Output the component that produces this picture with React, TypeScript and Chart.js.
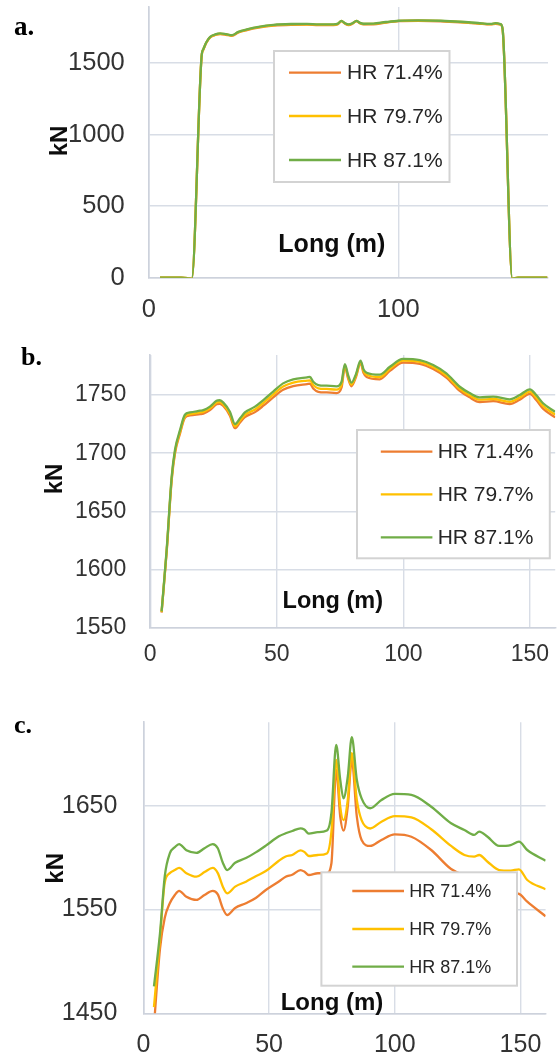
import React, { useEffect, useRef } from "react";
import { Chart, registerables } from "chart.js";

Chart.register(...registerables);

const SANS = '"Liberation Sans", Arial, sans-serif';
const SERIF = '"Liberation Serif", "Times New Roman", serif';

const seriesLabels = ["HR 71.4%", "HR 79.7%", "HR 87.1%"];
const seriesColors = ["#ED7D31", "#FFC000", "#70AD47"];

// ---- a. full length ----
const longA = [4.5, 8, 13, 15.5, 17.2, 21.2, 21.9, 23, 24.6, 26.6, 28.6, 31, 33.3, 35.9, 39.3, 44, 50, 57, 63.4, 68, 74, 75.8, 77.2, 78.6, 80.1, 81.7, 83.2, 84.7, 86.1, 90, 95, 100.2, 108, 117, 125, 132, 137, 139, 141, 141.8, 145.7, 148, 152, 159.7];
const hr714A = [0, 0, 0, -3, -8, 1552, 1596, 1641, 1680, 1697, 1704, 1699, 1692, 1715, 1732, 1749, 1762.5, 1768.5, 1769.5, 1766.5, 1766.5, 1773, 1794, 1777, 1766.5, 1777, 1794, 1778.5, 1772, 1772.5, 1784.5, 1794, 1796.8, 1793.5, 1786, 1777, 1771, 1776, 1770, 1736, -6, 0, 0, 0];
const hr797A = [0, 0, 0, -3, -8, 1554, 1598, 1643, 1682, 1699, 1706, 1701, 1694, 1717, 1734, 1751.5, 1765.5, 1771.5, 1772.3, 1769.3, 1769.3, 1775, 1795, 1778.5, 1769, 1778.5, 1795, 1780.5, 1774, 1775, 1786.3, 1795.5, 1798.4, 1795.3, 1788, 1779, 1773, 1778, 1772, 1738, -6, 0, 0, 0];
const hr871A = [0, 0, 0, -3, -8, 1556, 1600, 1645, 1684, 1701, 1708, 1703, 1696, 1719, 1736, 1754, 1768, 1774, 1775, 1772, 1772, 1777, 1796, 1780, 1771, 1780, 1796, 1782, 1776, 1777, 1788, 1797, 1800, 1797, 1790, 1781, 1775, 1780, 1774, 1740, -6, 0, 0, 0];
const yTicksA = [0, 500, 1000, 1500];
const xTicksA = [0, 100];

// ---- b. ----
const longB = [4.5, 6.5, 8.5, 9.8, 11.8, 13.7, 15.7, 19.7, 21, 23.6, 26.2, 27.5, 28.9, 31.5, 33.5, 35.5, 37.4, 41.4, 44.7, 48.6, 52.5, 56.5, 62, 63.1, 64.4, 66.4, 69.7, 73.6, 75.6, 76.9, 78.2, 79.5, 81.3, 83.1, 84.3, 85.5, 90.7, 94.7, 99.9, 106.5, 111.8, 117, 122.3, 126, 130.2, 135.5, 142, 146, 150, 152.5, 155.2, 160];
const hr714B = [1563, 1615, 1677, 1700, 1717, 1730.5, 1732.5, 1733.6, 1734, 1737, 1742, 1742.5, 1740.5, 1732.3, 1721.5, 1726.5, 1731, 1735.3, 1740.8, 1748, 1754.5, 1757.7, 1759.4, 1759.7, 1755.6, 1752.8, 1752.2, 1751.7, 1756.5, 1774.2, 1764, 1757.5, 1765.5, 1777.5, 1768.8, 1765.5, 1763.5, 1770.7, 1777.8, 1776.8, 1772.3, 1765, 1753.5, 1748.2, 1744, 1744.8, 1742.3, 1746, 1750.9, 1745.8, 1738.3, 1730.8];
const hr797B = [1563.5, 1616, 1678.5, 1701.5, 1718.5, 1731.5, 1733.5, 1735, 1735.5, 1738.5, 1743.5, 1744, 1742, 1734, 1723, 1728, 1733, 1737.5, 1743.2, 1750.4, 1757.3, 1760.7, 1762.4, 1762.6, 1758.6, 1755.8, 1755.2, 1754.7, 1759, 1775.5, 1765.5, 1759, 1766.8, 1778.5, 1770.5, 1767.5, 1765.5, 1772.5, 1779.5, 1778.4, 1774, 1766.7, 1755.2, 1750, 1746, 1746.6, 1744.2, 1747.9, 1752.9, 1747.8, 1740.6, 1733.1];
const hr871B = [1564, 1617, 1680, 1703, 1720, 1733, 1735, 1736.5, 1737, 1740, 1745, 1745.5, 1743.5, 1735.6, 1725, 1730, 1735, 1740, 1745.7, 1753, 1760, 1763.5, 1765.2, 1765.5, 1761.4, 1758.6, 1758, 1757.5, 1761.4, 1776.6, 1767, 1760.6, 1768, 1779.5, 1772, 1769.2, 1767.5, 1774.3, 1781, 1780, 1775.8, 1768.6, 1757.1, 1752, 1748, 1748.6, 1746.3, 1750, 1754.9, 1750, 1742.9, 1735.6];
const yTicksB = [1550, 1600, 1650, 1700, 1750];
const xTicksB = [0, 50, 100, 150];

// ---- c. ----
const longC = [4.2, 6.6, 8.5, 10.5, 12.5, 14.2, 17.1, 21.1, 24.3, 27.6, 29.6, 31.6, 33.3, 36.5, 40.8, 44.7, 48.7, 53.9, 56.6, 59.2, 62.5, 64, 65.8, 69.4, 73, 74.8, 76.7, 78.3, 79.6, 81.3, 82.9, 84.9, 86.8, 90.2, 94.7, 100, 106.6, 114.5, 122.4, 127.7, 131.6, 133.6, 136.9, 141.5, 146.1, 149.4, 152.7, 160];
const hr714C = [1438, 1512, 1542, 1556, 1564, 1568, 1562.3, 1559.2, 1564, 1568, 1564.5, 1551, 1544.7, 1551.5, 1556, 1561, 1568.8, 1577, 1581.6, 1583.5, 1588, 1586.5, 1583.2, 1584.9, 1585, 1594.5, 1684.4, 1639.4, 1626, 1649, 1694, 1639.4, 1617, 1611.2, 1617, 1622.4, 1620.1, 1607.3, 1589, 1583, 1580, 1581, 1575, 1567, 1566, 1565, 1557.5, 1543.5];
const hr797C = [1456, 1522, 1576, 1585, 1588, 1590, 1585, 1581.6, 1586, 1590, 1585, 1572, 1565.6, 1572, 1576.8, 1582, 1587, 1597, 1601, 1602.5, 1607, 1605.5, 1601.5, 1602.5, 1604, 1625, 1694, 1649, 1636, 1655.5, 1700.5, 1655.5, 1636, 1628, 1634.6, 1640, 1638.8, 1627.3, 1611.2, 1602.5, 1600.9, 1602.5, 1596, 1588, 1587.4, 1588.7, 1578.4, 1569.5];
const hr871C = [1476, 1527, 1582, 1604, 1610, 1613, 1607, 1604.5, 1609, 1613, 1609, 1595, 1588, 1595, 1599.5, 1605, 1611.5, 1620.5, 1623.4, 1625.6, 1628.2, 1627, 1623, 1624.5, 1626, 1643, 1708.5, 1675, 1657, 1678, 1716, 1675, 1657, 1647.5, 1655.5, 1661.3, 1660.3, 1649, 1633, 1626.6, 1621.8, 1625, 1620, 1611.2, 1612.1, 1615.3, 1607.3, 1597];
const yTicksC = [1450, 1550, 1650];
const xTicksC = [0, 50, 100, 150];

type PanelSpec = {
  letter: string;
  top: number;
  height: number;
  x: number[];
  series: number[][];
  xTicks: number[];
  yTicks: number[];
  xMax: number;
  yMin: number;
  yMax: number;
  area: { left: number; right: number; top: number; bottom: number };
  tickSize: number;
  yTickPad: number;
  xTickPad: number;
  letterPos: [number, number];
  letterSize: number;
  kN: [number, number];
  longPos: [number, number];
  titleSize: number;
  legend: { x: number; y: number; w: number; h: number; x1: number; x2: number; tx: number; rows: number[]; font: number };
};

const WIDTH = 558;
const GRID = "#d8dde6";
const AXIS = "#cdd2dc";
const TICK_TEXT = "#333333";

const panels: PanelSpec[] = [
  {
    letter: "a.",
    top: 0,
    height: 330,
    x: longA,
    series: [hr714A, hr797A, hr871A],
    xTicks: xTicksA,
    yTicks: yTicksA,
    xMax: 160,
    yMin: 0,
    yMax: 1893,
    area: { left: 148.8, right: 548, top: 7, bottom: 277.7 },
    tickSize: 25.5,
    yTickPad: 24,
    xTickPad: 17,
    letterPos: [14, 35],
    letterSize: 27,
    kN: [67, 141],
    longPos: [331.8, 251.7],
    titleSize: 25,
    legend: { x: 274, y: 51, w: 175.5, h: 131, x1: 289, x2: 341, tx: 347, rows: [72.7, 116, 160], font: 21 },
  },
  {
    letter: "b.",
    top: 330,
    height: 355,
    x: longB,
    series: [hr714B, hr797B, hr871B],
    xTicks: xTicksB,
    yTicks: yTicksB,
    xMax: 160,
    yMin: 1550,
    yMax: 1784.4,
    area: { left: 150.2, right: 555.2, top: 25, bottom: 297.7 },
    tickSize: 23,
    yTickPad: 24,
    xTickPad: 13.5,
    letterPos: [21, 35],
    letterSize: 26,
    kN: [62, 149],
    longPos: [332.8, 278.3],
    titleSize: 23.5,
    legend: { x: 357, y: 100, w: 192.8, h: 128.3, x1: 380.8, x2: 432.4, tx: 437.7, rows: [121.7, 164.3, 207.3], font: 21 },
  },
  {
    letter: "c.",
    top: 690,
    height: 373,
    x: longC,
    series: [hr714C, hr797C, hr871C],
    xTicks: xTicksC,
    yTicks: yTicksC,
    xMax: 160,
    yMin: 1450,
    yMax: 1730.3,
    area: { left: 143.4, right: 545.6, top: 32.3, bottom: 323.3 },
    tickSize: 25,
    yTickPad: 26,
    xTickPad: 16.7,
    letterPos: [14, 43],
    letterSize: 26,
    kN: [63, 178.3],
    longPos: [332, 320],
    titleSize: 24,
    legend: { x: 321.4, y: 182.3, w: 195.6, h: 113.4, x1: 352.3, x2: 404, tx: 409.3, rows: [201, 239, 276.7], font: 18 },
  },
];

function zeroPadding(sc: any) {
  sc.paddingLeft = 0;
  sc.paddingRight = 0;
  sc.paddingTop = 0;
  sc.paddingBottom = 0;
}

function buildChart(canvas: HTMLCanvasElement, spec: PanelSpec) {
  const overlay = {
    id: "panelOverlay",
    afterDraw(chart: any) {
      const ctx: CanvasRenderingContext2D = chart.ctx;
      ctx.save();

      // panel letter
      ctx.fillStyle = "#000000";
      ctx.font = `bold ${spec.letterSize}px ${SERIF}`;
      ctx.textAlign = "left";
      ctx.textBaseline = "alphabetic";
      ctx.fillText(spec.letter, spec.letterPos[0], spec.letterPos[1]);

      // axis titles
      ctx.fillStyle = "#0d0d0d";
      ctx.font = `bold ${spec.titleSize}px ${SANS}`;
      ctx.textAlign = "center";
      ctx.fillText("Long (m)", spec.longPos[0], spec.longPos[1]);

      ctx.save();
      ctx.translate(spec.kN[0], spec.kN[1]);
      ctx.rotate(-Math.PI / 2);
      ctx.font = `bold 24px ${SANS}`;
      ctx.textAlign = "center";
      ctx.textBaseline = "alphabetic";
      ctx.fillText("kN", 0, 0);
      ctx.restore();

      // boxed legend
      const L = spec.legend;
      ctx.fillStyle = "#ffffff";
      ctx.fillRect(L.x, L.y, L.w, L.h);
      ctx.strokeStyle = "#d3d3d3";
      ctx.lineWidth = 2;
      ctx.strokeRect(L.x, L.y, L.w, L.h);
      seriesLabels.forEach((label, k) => {
        const y = L.rows[k];
        ctx.strokeStyle = seriesColors[k];
        ctx.lineWidth = 2.3;
        ctx.beginPath();
        ctx.moveTo(L.x1, y);
        ctx.lineTo(L.x2, y);
        ctx.stroke();
        ctx.fillStyle = "#262626";
        ctx.font = `${L.font}px ${SANS}`;
        ctx.textAlign = "left";
        ctx.textBaseline = "middle";
        ctx.fillText(label, L.tx, y + 1);
      });
      ctx.restore();
    },
  };

  return new Chart(canvas, {
    type: "line",
    data: {
      datasets: seriesLabels.map((label, k) => ({
        label,
        data: spec.x.map((x, i) => ({ x, y: spec.series[k][i] })),
        borderColor: seriesColors[k],
        backgroundColor: seriesColors[k],
        borderWidth: 2.3,
        pointRadius: 0,
        fill: false,
        cubicInterpolationMode: "monotone",
        order: 3 - k,
      })),
    },
    options: {
      responsive: false,
      animation: false,
      devicePixelRatio: 1,
      layout: {
        padding: { left: 0, top: spec.area.top, right: WIDTH - spec.area.right, bottom: 0 },
      },
      plugins: {
        legend: { display: false },
        tooltip: { enabled: false },
        title: { display: false },
      },
      scales: {
        x: {
          type: "linear",
          min: 0,
          max: spec.xMax,
          afterBuildTicks: (sc: any) => {
            sc.ticks = spec.xTicks.map((v) => ({ value: v }));
          },
          afterFit: (sc: any) => {
            sc.height = spec.height - spec.area.bottom;
            zeroPadding(sc);
          },
          grid: { color: GRID, lineWidth: 1.4, drawTicks: false },
          border: { display: true, color: AXIS, width: 1.6 },
          ticks: {
            font: { family: SANS, size: spec.tickSize },
            color: TICK_TEXT,
            padding: spec.xTickPad,
            maxRotation: 0,
            autoSkip: false,
            callback: (v: any) => String(v),
          },
        },
        y: {
          type: "linear",
          min: spec.yMin,
          max: spec.yMax,
          afterBuildTicks: (sc: any) => {
            sc.ticks = spec.yTicks.map((v) => ({ value: v }));
          },
          afterFit: (sc: any) => {
            sc.width = spec.area.left;
            zeroPadding(sc);
          },
          grid: { color: GRID, lineWidth: 1.4, drawTicks: false },
          border: { display: true, color: AXIS, width: 1.6 },
          ticks: {
            font: { family: SANS, size: spec.tickSize },
            color: TICK_TEXT,
            padding: spec.yTickPad,
            autoSkip: false,
            callback: (v: any) => String(v),
          },
        },
      },
    } as any,
    plugins: [overlay],
  });
}

function Panel({ spec }: { spec: PanelSpec }) {
  const ref = useRef<HTMLCanvasElement>(null);
  useEffect(() => {
    if (!ref.current) return;
    const chart = buildChart(ref.current, spec);
    return () => chart.destroy();
  }, [spec]);
  return (
    <canvas
      ref={ref}
      width={WIDTH}
      height={spec.height}
      style={{ position: "absolute", left: 0, top: spec.top, width: WIDTH, height: spec.height }}
    />
  );
}

export default function App() {
  return (
    <div
      style={{
        position: "absolute",
        left: 0,
        top: 0,
        width: WIDTH,
        height: 1063,
        overflow: "hidden",
        background: "#ffffff",
      }}
    >
      {panels.map((p) => (
        <Panel key={p.letter} spec={p} />
      ))}
    </div>
  );
}
